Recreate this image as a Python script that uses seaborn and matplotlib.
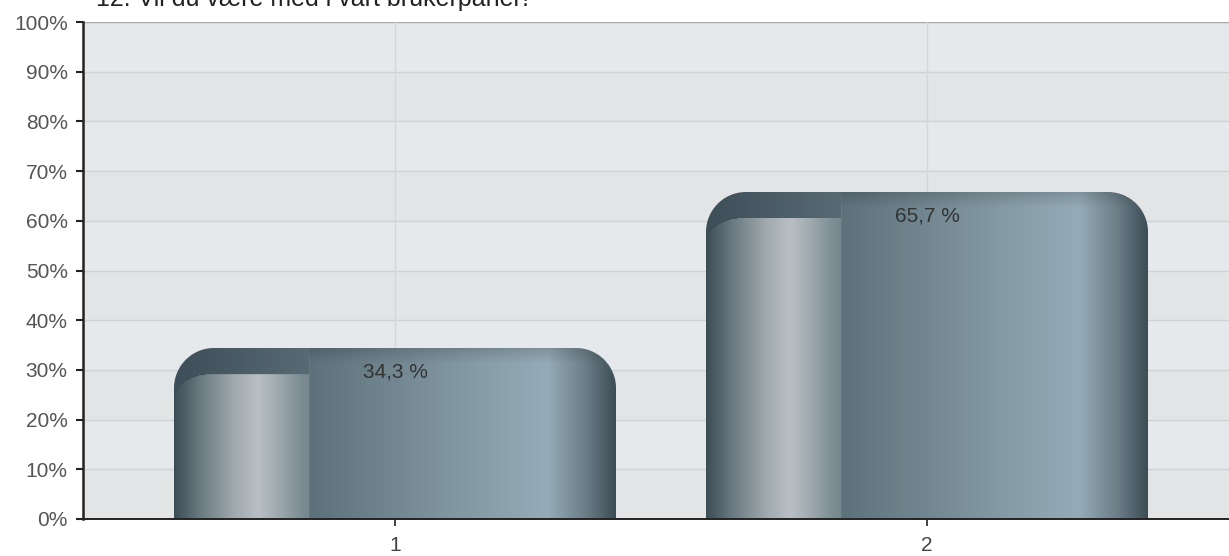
import numpy as np
import matplotlib
matplotlib.use("Agg")
import matplotlib.pyplot as plt
from matplotlib.colors import to_rgb
import seaborn as sns

# data
title = "12. Vil du være med i vårt brukerpanel?"
answers = ["1", "2"]
shares = [34.3, 65.7]
bar_labels = ["34,3 %", "65,7 %"]
yticks = list(range(0, 101, 10))

sns.set_style("white")
plt.rcParams["font.family"] = ["Liberation Sans", "DejaVu Sans"]

fig = plt.figure(figsize=(12.29, 5.56), dpi=100)
ax = fig.add_axes([83 / 1229, 37 / 556, 1146 / 1229, 497 / 556])

sns.barplot(x=answers, y=shares, ax=ax, width=0.83, color="#6c808a", zorder=2)

xlim = (-0.5865, 1.5677)
ylim = (0, 100)
ax.set_xlim(*xlim)
ax.set_ylim(*ylim)

# alternating background bands
for k in range(10):
    c = "#e3e4e6" if k % 2 == 0 else "#e6e9ec"
    ax.axhspan(k * 10, k * 10 + 10, color=c, zorder=0, lw=0)
for t in yticks[1:]:
    ax.axhline(t, color="#cfd1d3" if t < 100 else "#a8a8a8", lw=1, zorder=0.5)
for i in range(len(answers)):
    ax.axvline(i, color="#d4d6d8", lw=1, zorder=0.5)

# pixels per data unit
px_x = 1146 / (xlim[1] - xlim[0])
px_y = 497 / (ylim[1] - ylim[0])

main_stops = [(0.0, "#3b4c55"), (0.06, "#6a7a81"), (0.136, "#a0a9ad"), (0.19, "#b9bfc5"),
              (0.234, "#a0abb0"), (0.29, "#7b8c92"), (0.306, "#76868d"), (0.307, "#5d717b"),
              (0.44, "#6c808a"), (0.66, "#8399a4"), (0.846, "#95abb7"), (0.93, "#6c7e88"),
              (1.0, "#3b4c55")]
dark_stops = [(0.0, "#3d4e58"), (0.306, "#586a74"), (0.307, "#5d717b"), (1.0, "#5d717b")]


def profile(stops, f):
    pos = [s[0] for s in stops]
    cols = np.array([to_rgb(s[1]) for s in stops])
    return np.stack([np.interp(f, pos, cols[:, c]) for c in range(3)], axis=-1)


def bar_image(W, H):
    j = np.arange(W) + 0.5
    i = np.arange(H) + 0.5
    f = j / W
    J, I = np.meshgrid(j, i)
    F = J / W
    img = np.broadcast_to(profile(main_stops, f), (H, W, 3)).copy()
    dark = np.broadcast_to(profile(dark_stops, f), (H, W, 3))
    # inner highlight region on the left, with its own rounded corner
    top_in, rx_in, ry_in = 26, 38, 26
    cy = top_in + ry_in
    inside = (F < 0.306) & (I >= top_in)
    corner = (J < rx_in) & (I < cy)
    ell = ((J - rx_in) / rx_in) ** 2 + ((I - cy) / ry_in) ** 2 <= 1
    inside &= ~corner | ell
    left = F < 0.306
    img[left & ~inside] = dark[left & ~inside]
    # darker band along the top of the bar
    shade = 0.86 + 0.14 * np.clip(I / 16, 0, 1)
    img *= np.where(left & ~inside, 1.0, shade)[..., None]
    # rounded top corners as alpha
    R = 40
    alpha = np.ones((H, W))
    for cx in (R, W - R):
        d = np.hypot(J - cx, I - R)
        zone = (I < R) & ((J < R) if cx == R else (J > W - R))
        alpha[zone] = np.clip(R - d[zone] + 0.5, 0, 1)
    return np.dstack([img, alpha])


for p, lab in zip(list(ax.patches), bar_labels):
    x0, w, h = p.get_x(), p.get_width(), p.get_height()
    p.set_visible(False)
    W = int(round(w * px_x))
    H = int(round(h * px_y))
    ax.imshow(bar_image(W, H), extent=(x0, x0 + w, 0, h), aspect="auto",
              interpolation="bilinear", zorder=2, origin="upper")
    ax.annotate(lab, (x0 + w / 2, h), xytext=(0, -17), textcoords="offset points",
                ha="center", va="center", fontsize=15, color="#333333", zorder=3)

ax.set_xlim(*xlim)
ax.set_ylim(*ylim)
ax.set_yticks(yticks)
ax.set_yticklabels([f"{t}%" for t in yticks])
ax.tick_params(axis="y", length=5, width=1.5, color="#222222", pad=6, labelsize=15,
               labelcolor="#555555", left=True)
ax.tick_params(axis="x", length=5, width=1.2, color="#222222", pad=7, labelsize=15,
               labelcolor="#444444", bottom=True)

for s in ["top", "right"]:
    ax.spines[s].set_visible(False)
ax.spines["left"].set_color("#222222")
ax.spines["left"].set_linewidth(1.8)
ax.spines["bottom"].set_color("#222222")
ax.spines["bottom"].set_linewidth(1.4)
ax.spines["left"].set_zorder(4)
ax.spines["bottom"].set_zorder(4)
ax.set_xlabel("")
ax.set_ylabel("")

fig.text(96 / 1229, 1 - 6 / 556, title, ha="left", va="baseline", fontsize=18, color="#222222")

fig.savefig("out.png", dpi=100)
